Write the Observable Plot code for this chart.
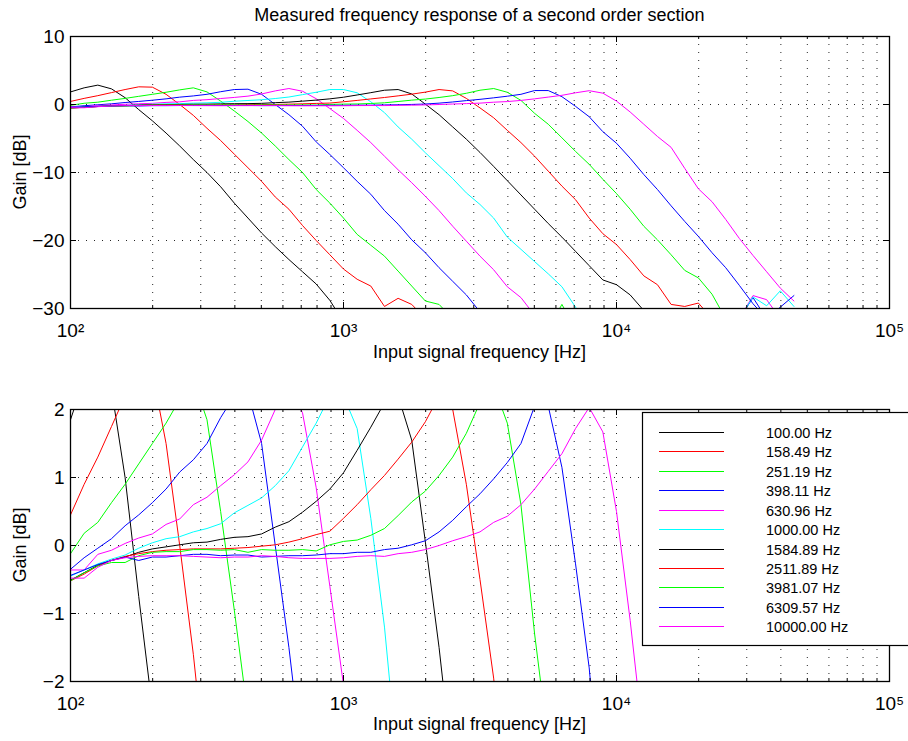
<!DOCTYPE html>
<html><head><meta charset="utf-8">
<script src="https://cdn.jsdelivr.net/npm/d3@7"></script>
<script src="https://cdn.jsdelivr.net/npm/@observablehq/plot@0.6"></script>
<style>
body{margin:0;background:#fff;font-family:"Liberation Sans",Arial,Helvetica,sans-serif;}
#fig{position:relative;width:908px;height:741px;overflow:hidden;background:#fff}
.abs{position:absolute;white-space:nowrap;color:#000}
.panel{position:absolute;left:0}
</style></head><body><div id="fig"></div>
<script>
const _ = null;
// measured frequency grid (Hz), 1/20 decade steps
const freqs = [100, 112.2, 125.9, 141.3, 158.5, 177.8, 199.5, 223.9, 251.2, 281.8,
  316.2, 354.8, 398.1, 446.7, 501.2, 562.3, 631.0, 707.9, 794.3, 891.3,
  1000, 1122, 1259, 1413, 1585, 1778, 1995, 2239, 2512, 2818,
  3162, 3548, 3981, 4467, 5012, 5623, 6310, 7079, 7943, 8913,
  10000, 11220, 12589, 14125, 15849, 17783, 19953, 22387, 25119, 28184,
  31623, 35481, 39811, 44668];

const legendLabels = ["100.00 Hz","158.49 Hz","251.19 Hz","398.11 Hz","630.96 Hz","1000.00 Hz",
  "1584.89 Hz","2511.89 Hz","3981.07 Hz","6309.57 Hz","10000.00 Hz"];
const lineColors = ["#000000","#ff0000","#00ff00","#0000ff","#ff00ff","#00ffff",
  "#000000","#ff0000","#00ff00","#0000ff","#ff00ff"];

// gains in dB, one entry per frequency above (null = not visible)
const g100 = [1.85, 2.45, 2.85, 2.3, 1.0, -0.75, -2.4, -4.2, -6.1, -8.1,
  -10.0, -12.1, -14.5, -16.7, -18.9, -20.9, -22.8, -24.6, -26.4, -28.8,
  -32.0, _, _, _, _, _, _, _, _, _,
  _, _, _, _, _, _, _, _, _, _,
  _, _, _, _, _, _, _, _, _, _,
  _, _, _, _];
const g158 = [0.45, 0.9, 1.3, 1.75, 2.2, 2.6, 2.55, 1.5, 0.0, -1.6,
  -3.5, -5.3, -7.3, -9.3, -11.3, -13.6, -15.4, -17.8, -20.0, -22.1,
  -24.2, -25.7, -26.7, -29.7, -28.5, -29.4, -31.5, _, _, _,
  _, _, _, _, _, _, _, _, _, _,
  _, _, _, _, _, _, _, _, _, _,
  _, _, _, _];
const g251 = [-0.12, 0.18, 0.34, 0.63, 0.9, 1.2, 1.5, 1.8, 2.15, 2.45,
  1.85, 0.5, -0.95, -2.5, -4.2, -6.1, -8.1, -10.0, -12.5, -14.5,
  -16.7, -19.1, -20.7, -22.3, -24.5, -26.7, -28.9, -29.4, -31.5, _,
  _, _, _, _, _, -33.0, -29.4, -33.0, _, _,
  _, _, _, _, _, _, _, _, _, _,
  _, _, _, _];
const g398 = [-0.35, -0.18, -0.04, 0.1, 0.29, 0.45, 0.63, 0.83, 1.08, 1.26,
  1.5, 1.88, 2.2, 2.25, 1.5, 0.0, -1.5, -3.2, -5.5, -7.35,
  -9.3, -11.3, -13.2, -15.6, -17.6, -19.9, -21.8, -24.0, -26.0, -28.0,
  -30.5, _, _, _, _, _, _, _, _, _,
  _, _, _, _, _, _, _, _, _, -31.5,
  -28.4, -31.5, _, _];
const g631 = [-0.36, -0.36, -0.13, -0.07, 0.03, 0.11, 0.17, 0.31, 0.39, 0.6,
  0.71, 0.88, 1.04, 1.23, 1.55, 2.0, 2.35, 1.95, 0.85, -0.6,
  -2.05, -3.8, -5.6, -7.6, -9.6, -11.5, -13.5, -15.6, -17.9, -20.1,
  -22.3, -24.3, -26.8, -28.4, -31.0, _, _, _, _, _,
  _, _, _, _, _, _, _, _, _, -31.5,
  -28.1, -28.7, -31.5, _];
const g1000 = [-0.45, -0.36, -0.27, -0.2, -0.14, -0.04, 0.04, 0.1, 0.13, 0.2,
  0.25, 0.32, 0.48, 0.59, 0.7, 0.88, 1.1, 1.45, 1.8, 2.2,
  2.2, 1.72, 0.4, -1.2, -3.3, -5.1, -7.1, -9.0, -10.9, -13.0,
  -14.7, -16.7, -19.5, -21.3, -23.1, -24.9, -26.8, -29.8, -33.0, _,
  _, _, _, _, _, _, _, _, _, -31.5,
  -28.3, -29.6, -27.4, -29.7];
const g1585 = [-0.51, -0.4, -0.29, -0.22, -0.17, -0.1, -0.05, -0.02, 0.01, 0.04,
  0.05, 0.09, 0.12, 0.13, 0.17, 0.27, 0.35, 0.49, 0.65, 0.83,
  1.07, 1.4, 1.74, 2.1, 2.2, 1.55, 0.05, -1.5, -3.3, -5.1,
  -7.05, -9.1, -11.2, -13.3, -15.4, -17.5, -19.5, -21.6, -23.7, -25.8,
  -26.5, -28.0, -30.3, _, _, _, _, _, _, _,
  _, _, _, _];
const g2512 = [-0.52, -0.42, -0.3, -0.22, -0.16, -0.12, -0.09, -0.07, -0.06, -0.05,
  -0.05, -0.05, -0.04, -0.03, -0.01, 0.01, 0.05, 0.1, 0.16, 0.21,
  0.4, 0.6, 0.82, 1.03, 1.27, 1.52, 1.82, 2.2, 2.0, 0.9,
  -0.5, -1.95, -3.8, -5.6, -7.6, -9.8, -12.0, -14.0, -16.7, -19.0,
  -20.6, -22.8, -25.2, -26.5, -29.4, -29.7, -29.2, -31.5, _, _,
  _, _, _, _];
const g3981 = [-0.52, -0.4, -0.3, -0.25, -0.25, -0.15, -0.1, -0.09, -0.09, -0.06,
  -0.06, -0.07, -0.06, -0.1, -0.06, -0.07, -0.07, -0.06, -0.08, 0.01,
  0.06, 0.08, 0.15, 0.25, 0.44, 0.64, 0.8, 1.03, 1.3, 1.65,
  2.1, 2.35, 1.8, 0.6, -1.3, -2.9, -4.9, -6.9, -8.8, -11.0,
  -13.1, -15.4, -17.9, -19.9, -22.1, -24.4, -25.5, -27.9, -31.5, _,
  _, _, _, _];
const g6310 = [-0.44, -0.36, -0.28, -0.22, -0.17, -0.22, -0.17, -0.17, -0.15, -0.13,
  -0.13, -0.15, -0.14, -0.14, -0.17, -0.16, -0.15, -0.15, -0.14, -0.12,
  -0.12, -0.1, -0.1, -0.06, -0.04, 0.01, 0.07, 0.2, 0.37, 0.57,
  0.76, 0.98, 1.22, 1.5, 2.05, 2.05, 1.15, -0.27, -1.8, -4.0,
  -5.7, -7.9, -10.3, -12.5, -14.9, -17.2, -19.4, -21.8, -24.0, -26.6,
  -29.3, -31.5, -29.8, -28.1];
const g10000 = [-0.48, -0.48, -0.32, -0.22, -0.18, -0.16, -0.15, -0.15, -0.15, -0.16,
  -0.17, -0.18, -0.17, -0.17, -0.15, -0.16, -0.18, -0.19, -0.19, -0.19,
  -0.18, -0.16, -0.15, -0.16, -0.12, -0.1, -0.06, 0.0, 0.07, 0.13,
  0.2, 0.34, 0.43, 0.6, 0.83, 1.09, 1.35, 1.72, 2.03, 1.67,
  0.5, -1.1, -2.9, -4.7, -6.3, -9.4, -12.4, -14.3, -16.9, -19.7,
  -22.2, -24.6, -27.0, -28.9];

const xMajorTicks = [100, 1000, 10000, 100000];
const xTickLabels = ["10²", "10³", "10⁴", "10⁵"];
const yTicksTop = [10, 0, -10, -20, -30];
const yTicksBottom = [2, 1, 0, -1, -2];

const title = "Measured frequency response of a second order section";
const xLabel = "Input signal frequency [Hz]";
const yLabel = "Gain [dB]";

const seriesList = [g100, g158, g251, g398, g631, g1000, g1585, g2512, g3981, g6310, g10000];

// ---- layout ----
const W = 908, ML = 70, MR = 19;
const frameW = W - ML - MR;
const FONT = '"Liberation Sans", Arial, Helvetica, sans-serif';
const xMinor = [];
for (let d = 100; d < 100000; d *= 10) for (let m = 2; m <= 9; m++) xMinor.push(d * m);
const xGrid = xMajorTicks.concat(xMinor);
const minus = v => v < 0 ? "\u2212" + Math.abs(v) : String(v);

function panel(yDomain, yTicks, top, height, marginTop, marginBottom) {
  const frameH = height - marginTop - marginBottom;
  const marks = [
    Plot.ruleX(xGrid, {stroke: "#000", strokeOpacity: 0.85, strokeDasharray: "1,7"}),
    Plot.ruleY(yTicks, {stroke: "#000", strokeOpacity: 0.85, strokeDasharray: "1,7"})
  ];
  seriesList.forEach((vals, s) => {
    const rows = freqs.map((f, k) => ({f, g: vals[k]}));
    marks.push(Plot.line(rows, {x: "f", y: "g", stroke: lineColors[s], strokeWidth: 1, clip: true}));
  });
  marks.push(
    Plot.ruleX(xMajorTicks, {stroke: "#000", insetTop: frameH - 6}),
    Plot.ruleX(xMajorTicks, {stroke: "#000", insetBottom: frameH - 6}),
    Plot.ruleX(xMinor, {stroke: "#000", insetTop: frameH - 3}),
    Plot.ruleX(xMinor, {stroke: "#000", insetBottom: frameH - 3}),
    Plot.ruleY(yTicks, {stroke: "#000", insetRight: frameW - 6}),
    Plot.ruleY(yTicks, {stroke: "#000", insetLeft: frameW - 6}),
    Plot.frame({stroke: "#000", strokeWidth: 1.3})
  );
  const svg = Plot.plot({
    width: W, height, marginLeft: ML, marginRight: MR, marginTop, marginBottom,
    style: {fontSize: "19px", fontFamily: FONT, color: "#000", background: "transparent", overflow: "visible"},
    x: {type: "log", domain: [100, 100000], ticks: xMajorTicks,
        tickFormat: v => xTickLabels[xMajorTicks.indexOf(v)], tickSize: 0, tickPadding: 15, label: null},
    y: {domain: yDomain, ticks: yTicks, tickFormat: minus, tickSize: 0, tickPadding: 6, label: null},
    marks
  });
  svg.classList.add("panel");
  svg.style.top = top + "px";
  return svg;
}

const fig = document.getElementById("fig");
fig.appendChild(panel([-30, 10], yTicksTop, 0, 370, 36, 62));
fig.appendChild(panel([-2, 2], yTicksBottom, 370, 371, 39, 60));

function addText(txt, left, top, size, extra) {
  const d = document.createElement("div");
  d.className = "abs";
  d.textContent = txt;
  d.style.left = left + "px"; d.style.top = top + "px";
  d.style.fontSize = size + "px";
  d.style.fontFamily = FONT;
  Object.assign(d.style, extra || {});
  fig.appendChild(d);
  return d;
}
addText(title, ML, 4, 18, {width: frameW + "px", textAlign: "center", lineHeight: "22px"});
addText(xLabel, ML, 341, 18, {width: frameW + "px", textAlign: "center", lineHeight: "22px"});
addText(xLabel, ML, 713, 18, {width: frameW + "px", textAlign: "center", lineHeight: "22px"});
[172, 545].forEach(cy => {
  addText(yLabel, 20 - 100, cy - 11, 18, {width: "200px", height: "22px", lineHeight: "22px",
    textAlign: "center", transform: "rotate(-90deg)", transformOrigin: "50% 50%"});
});

// legend (box clipped by the figure edge, as in the original)
const NS = "http://www.w3.org/2000/svg";
const leg = document.createElementNS(NS, "svg");
leg.setAttribute("width", 908); leg.setAttribute("height", 741);
Object.assign(leg.style, {position: "absolute", left: "0px", top: "0px", overflow: "hidden"});
const box = document.createElementNS(NS, "rect");
box.setAttribute("x", 642.5); box.setAttribute("y", 412.5);
box.setAttribute("width", 320); box.setAttribute("height", 233);
box.setAttribute("fill", "#fff"); box.setAttribute("stroke", "#000"); box.setAttribute("stroke-width", 1.2);
leg.appendChild(box);
legendLabels.forEach((lab, i) => {
  const y = Math.round(432 + 19.43 * i) + 0.5;
  const ln = document.createElementNS(NS, "line");
  ln.setAttribute("x1", 659); ln.setAttribute("x2", 724);
  ln.setAttribute("y1", y); ln.setAttribute("y2", y);
  ln.setAttribute("stroke", lineColors[i]); ln.setAttribute("stroke-width", 1);
  leg.appendChild(ln);
  const t = document.createElementNS(NS, "text");
  t.setAttribute("x", 766); t.setAttribute("y", y);
  t.setAttribute("dy", "0.36em");
  t.setAttribute("font-size", "14.5px");
  t.setAttribute("font-family", FONT);
  t.setAttribute("fill", "#000");
  t.textContent = lab;
  leg.appendChild(t);
});
fig.appendChild(leg);
</script>
</body></html>
